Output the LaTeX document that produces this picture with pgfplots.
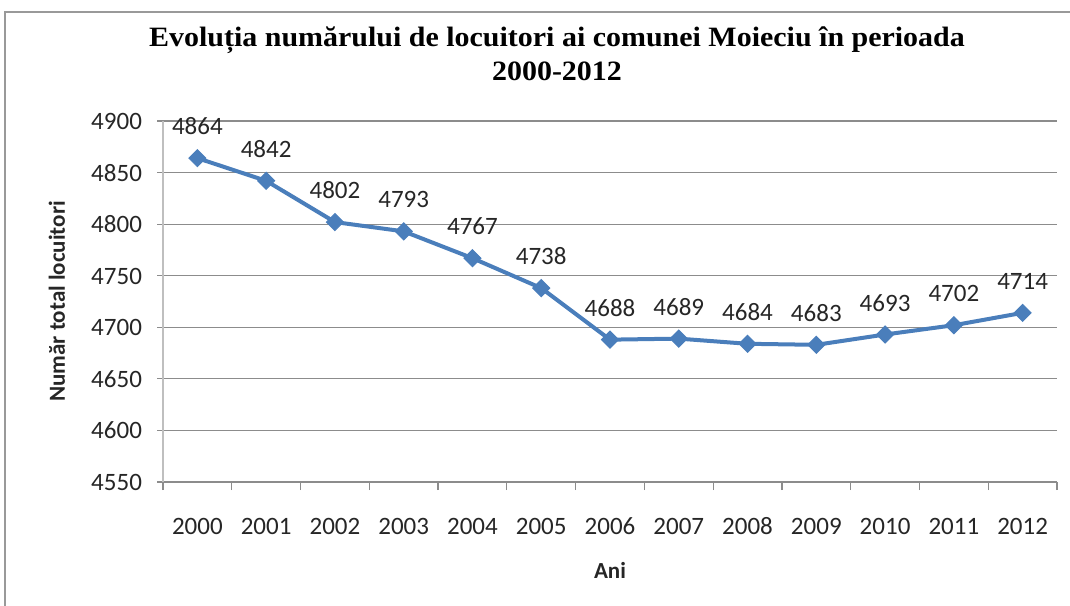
\documentclass[border=0pt]{standalone}
\usepackage{pgfplots}
\pgfplotsset{compat=1.18}
\usepackage{fontspec}
\setmainfont{Carlito}
\newfontfamily\titlefont[FakeStretch=1.07]{Liberation Serif}
\definecolor{serie}{HTML}{4A7EBB}
\definecolor{gridc}{HTML}{8C8C8C}
\definecolor{axc}{HTML}{BFBFBF}
\definecolor{txt}{HTML}{262626}
\begin{document}
\begin{tikzpicture}
\useasboundingbox (0pt,0pt) rectangle (535pt,302.5pt);
\draw[color=gray!80, line width=1pt] (2.5pt,-10pt) rectangle (560pt,296.5pt);
\node[align=center, font=\titlefont\bfseries\fontsize{14}{17}\selectfont, text=black] at (278.5pt,275.5pt)
  {Evoluția numărului de locuitori ai comunei Moieciu în perioada\\2000-2012};
\begin{axis}[
  at={(81.5pt,61.5pt)}, anchor=south west,
  width=447pt, height=180.5pt, scale only axis,
  xmin=-0.5, xmax=12.5, ymin=4550, ymax=4900,
  ytick distance=50,
  xtick={0,...,12},
  xticklabels={2000,2001,2002,2003,2004,2005,2006,2007,2008,2009,2010,2011,2012},
  minor xtick={-0.5,0.5,...,12.5},
  axis x line=bottom, axis y line=left,
  axis line style={-},
  x axis line style={draw=gridc},
  y axis line style={draw=axc, line width=1pt},
  ymajorgrids, grid style={draw=gridc, line width=0.6pt},
  major x tick style={draw=none},
  minor x tick style={draw=gridc, line width=0.6pt},
  y tick style={draw=gridc, line width=0.6pt},
  tick align=outside,
  major tick length=3pt, minor tick length=4pt,
  /pgf/number format/assume math mode=true,
  /pgf/number format/set thousands separator={},
  ticklabel style={font=\fontsize{12.5}{14}\selectfont, text=txt, text height=8.5pt, text depth=0pt},
  xticklabel style={yshift=-11pt},
  yticklabel style={xshift=-4pt},
  xlabel={Ani}, ylabel={Număr total locuitori},
  xlabel style={at={(axis description cs:0.5,-0.2438)}, anchor=center, font=\bfseries\fontsize{11.5}{14}\selectfont, text=txt},
  ylabel style={at={(axis description cs:-0.1186,0.5)}, anchor=center, rotate=0, font=\bfseries\fontsize{11.5}{14}\selectfont, text=txt},
  clip=false,
]
\addplot[color=serie, line width=2pt, mark=square*, mark size=3pt,
  mark options={fill=serie, draw=serie, line width=0.5pt, rotate=45},
  nodes near coords, point meta=explicit symbolic,
  every node near coord/.append style={anchor=center, yshift=16pt, text height=8.5pt, text depth=0pt, font=\fontsize{12.5}{14}\selectfont, text=txt}]
  table[meta=v] {
x y v
0 4864 4864
1 4842 4842
2 4802 4802
3 4793 4793
4 4767 4767
5 4738 4738
6 4688 4688
7 4689 4689
8 4684 4684
9 4683 4683
10 4693 4693
11 4702 4702
12 4714 4714
};
\end{axis}
\end{tikzpicture}
\end{document}
